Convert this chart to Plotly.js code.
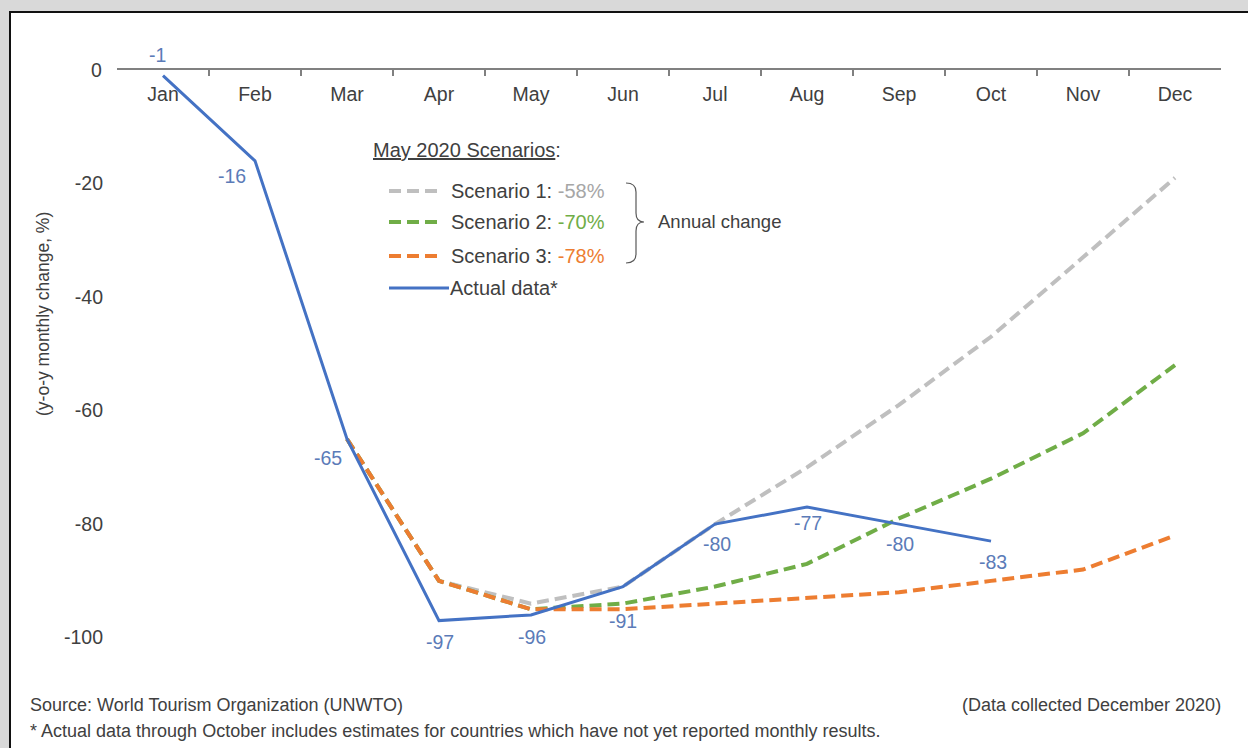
<!DOCTYPE html>
<html>
<head>
<meta charset="utf-8">
<script src="https://cdn.plot.ly/plotly-3.0.1.min.js"></script>
<style>
  html, body { margin:0; padding:0; background:#d9d9d9; width:1248px; height:748px; overflow:hidden; }
  #frame { position:absolute; left:9px; top:11px; width:1239px; height:737px;
           border-left:2px solid #111; border-top:2px solid #111; background:#fff; }
  #chart { width:1237px; height:735px; }
</style>
</head>
<body>
<div id="frame"><div id="chart"></div></div>
<script>
// ---- data ----
const months = ['Jan','Feb','Mar','Apr','May','Jun','Jul','Aug','Sep','Oct','Nov','Dec'];
const actualMonths = ['Jan','Feb','Mar','Apr','May','Jun','Jul','Aug','Sep','Oct'];
const actual    = [-1, -16, -65, -97, -96, -91, -80, -77, -80, -83];
const scenario1 = [null, null, -65, -90, -94, -91, -80, -70, -59, -47, -33, -19];
const scenario2 = [null, null, -65, -90, -95, -94, -91, -87, -79, -72, -64, -52];
const scenario3 = [null, null, -65, -90, -95, -95, -94, -93, -92, -90, -88, -82];
const yTicks = [0, -20, -40, -60, -80, -100];
const scenarioNames = ['Scenario 1', 'Scenario 2', 'Scenario 3'];
const annualChange = ['-58%', '-70%', '-78%'];

// ---- styling ----
const C = { s1:'#bfbfbf', s2:'#70ad47', s3:'#ed7d31', act:'#4472c4', lbl:'#5b7bb8', txt:'#404040', s1txt:'#a6a6a6' };
const FONT = 'Liberation Sans, Arial, sans-serif';
const dashPat = '12px,6px';
const TICK = 19.5, LEG = 20, FOOT = 18, LBL = 19.5;

// plot area in absolute page pixels (frame content starts at 11,13)
const OX = 11, OY = 13;
const L = 117, R = 1221, T = 70, B = 649;
const W = R - L, H = B - T;
const px = a => (a - L) / W;
const py = a => (B - a) / H;

// label offsets (px) for the actual-data labels
const lblShift = [[-6,21],[-23,-15],[-19,-19],[1,-21],[1,-22],[0,-34],[2,-20],[1,-16],[1,-20],[2,-21]];

const traces = [
  {x: months, y: scenario1, mode:'lines', line:{color:C.s1, width:4, dash:dashPat}, hoverinfo:'skip'},
  {x: months, y: scenario2, mode:'lines', line:{color:C.s2, width:4, dash:dashPat}, hoverinfo:'skip'},
  {x: months, y: scenario3, mode:'lines', line:{color:C.s3, width:4, dash:dashPat}, hoverinfo:'skip'},
  {x: actualMonths, y: actual, mode:'lines', line:{color:C.act, width:3}, hoverinfo:'skip'}
];

const annotations = [];
actual.forEach((v, i) => {
  annotations.push({x: actualMonths[i], y: v, xref:'x', yref:'y', text: String(v), showarrow:false,
    xshift: lblShift[i][0], yshift: lblShift[i][1], font:{family:FONT, size:LBL, color:C.lbl}});
});

// top y tick label (0), hidden by plotly next to the inside x-axis labels
annotations.push({xref:'paper', yref:'y', x:0, y:yTicks[0], xanchor:'right', yanchor:'middle', xshift:-13,
  text:String(yTicks[0]), showarrow:false, font:{family:FONT, size:TICK, color:C.txt}});

// y axis title
annotations.push({xref:'paper', yref:'paper', x: px(43), y: py(314), xanchor:'center', yanchor:'middle',
  text:'(y-o-y monthly change, %)', textangle:-90, showarrow:false, font:{family:FONT, size:17.5, color:C.txt}});

// legend block
annotations.push({xref:'paper', yref:'paper', x: px(371), y: py(150), xanchor:'left', yanchor:'middle',
  text:'<u>May 2020 Scenarios</u>:', showarrow:false, font:{family:FONT, size:LEG, color:C.txt}});
const legY = [191, 222, 256];
const legCols = [C.s1, C.s2, C.s3];
const legTxtCols = [C.s1txt, C.s2, C.s3];
const shapes = [];
scenarioNames.forEach((n, i) => {
  shapes.push({type:'line', xref:'paper', yref:'paper', x0:px(389), x1:px(442), y0:py(legY[i]), y1:py(legY[i]),
    line:{color:legCols[i], width:4, dash:dashPat}});
  annotations.push({xref:'paper', yref:'paper', x: px(449), y: py(legY[i]), xanchor:'left', yanchor:'middle',
    text: n + ': <span style="color:' + legTxtCols[i] + '">' + annualChange[i] + '</span>',
    showarrow:false, font:{family:FONT, size:LEG, color:C.txt}});
});
shapes.push({type:'line', xref:'paper', yref:'paper', x0:px(389), x1:px(449), y0:py(288), y1:py(288),
  line:{color:C.act, width:3}});
annotations.push({xref:'paper', yref:'paper', x: px(448), y: py(288), xanchor:'left', yanchor:'middle',
  text:'Actual data*', showarrow:false, font:{family:FONT, size:LEG, color:C.txt}});
// bracket
const bx = v => px(v).toFixed(5), by = v => py(v).toFixed(5);
shapes.push({type:'path', xref:'paper', yref:'paper', line:{color:'#595959', width:1.2},
  path: 'M'+bx(626)+','+by(183)+' Q'+bx(636)+','+by(183)+' '+bx(636)+','+by(192)+
        ' L'+bx(636)+','+by(213)+' Q'+bx(636)+','+by(222)+' '+bx(644)+','+by(222)+
        ' Q'+bx(636)+','+by(222)+' '+bx(636)+','+by(231)+
        ' L'+bx(636)+','+by(254)+' Q'+bx(636)+','+by(263)+' '+bx(626)+','+by(263)});
annotations.push({xref:'paper', yref:'paper', x: px(656), y: py(222), xanchor:'left', yanchor:'middle',
  text:'Annual change', showarrow:false, font:{family:FONT, size:18.5, color:C.txt}});

// footer
annotations.push({xref:'paper', yref:'paper', x: px(28), y: py(705), xanchor:'left', yanchor:'middle',
  text:'Source: World Tourism Organization (UNWTO)', showarrow:false, font:{family:FONT, size:FOOT, color:C.txt}});
annotations.push({xref:'paper', yref:'paper', x: px(1223), y: py(705), xanchor:'right', yanchor:'middle',
  text:'(Data collected December 2020)', showarrow:false, font:{family:FONT, size:FOOT, color:C.txt}});
annotations.push({xref:'paper', yref:'paper', x: px(28), y: py(731), xanchor:'left', yanchor:'middle',
  text:'* Actual data through October includes estimates for countries which have not yet reported monthly results.',
  showarrow:false, font:{family:FONT, size:FOOT, color:C.txt}});

const layout = {
  width: 1237, height: 735,
  margin: {l: L - OX, r: 1248 - R, t: T - OY, b: 748 - B},
  paper_bgcolor:'#ffffff', plot_bgcolor:'rgba(0,0,0,0)',
  showlegend:false,
  font:{family:FONT, color:C.txt},
  xaxis: {type:'category', categoryarray: months, categoryorder:'array', range:[-0.5, 11.5],
    side:'top', showline:true, linecolor:'#808080', linewidth:2,
    ticks:'inside', ticklen:6, tickwidth:1.5, tickcolor:'#808080', tickson:'boundaries',
    ticklabelposition:'inside', ticklabelstandoff:12,
    tickfont:{family:FONT, size:TICK, color:C.txt}, showgrid:false, zeroline:false, fixedrange:true},
  yaxis: {range:[-102, 0], tickvals: yTicks, ticktext: yTicks.map(String), ticks:'', showline:false,
    showgrid:false, zeroline:false, ticklabelstandoff:13,
    tickfont:{family:FONT, size:TICK, color:C.txt}, fixedrange:true},
  annotations, shapes
};

Plotly.newPlot('chart', traces, layout, {displayModeBar:false, staticPlot:true});
</script>
</body>
</html>
